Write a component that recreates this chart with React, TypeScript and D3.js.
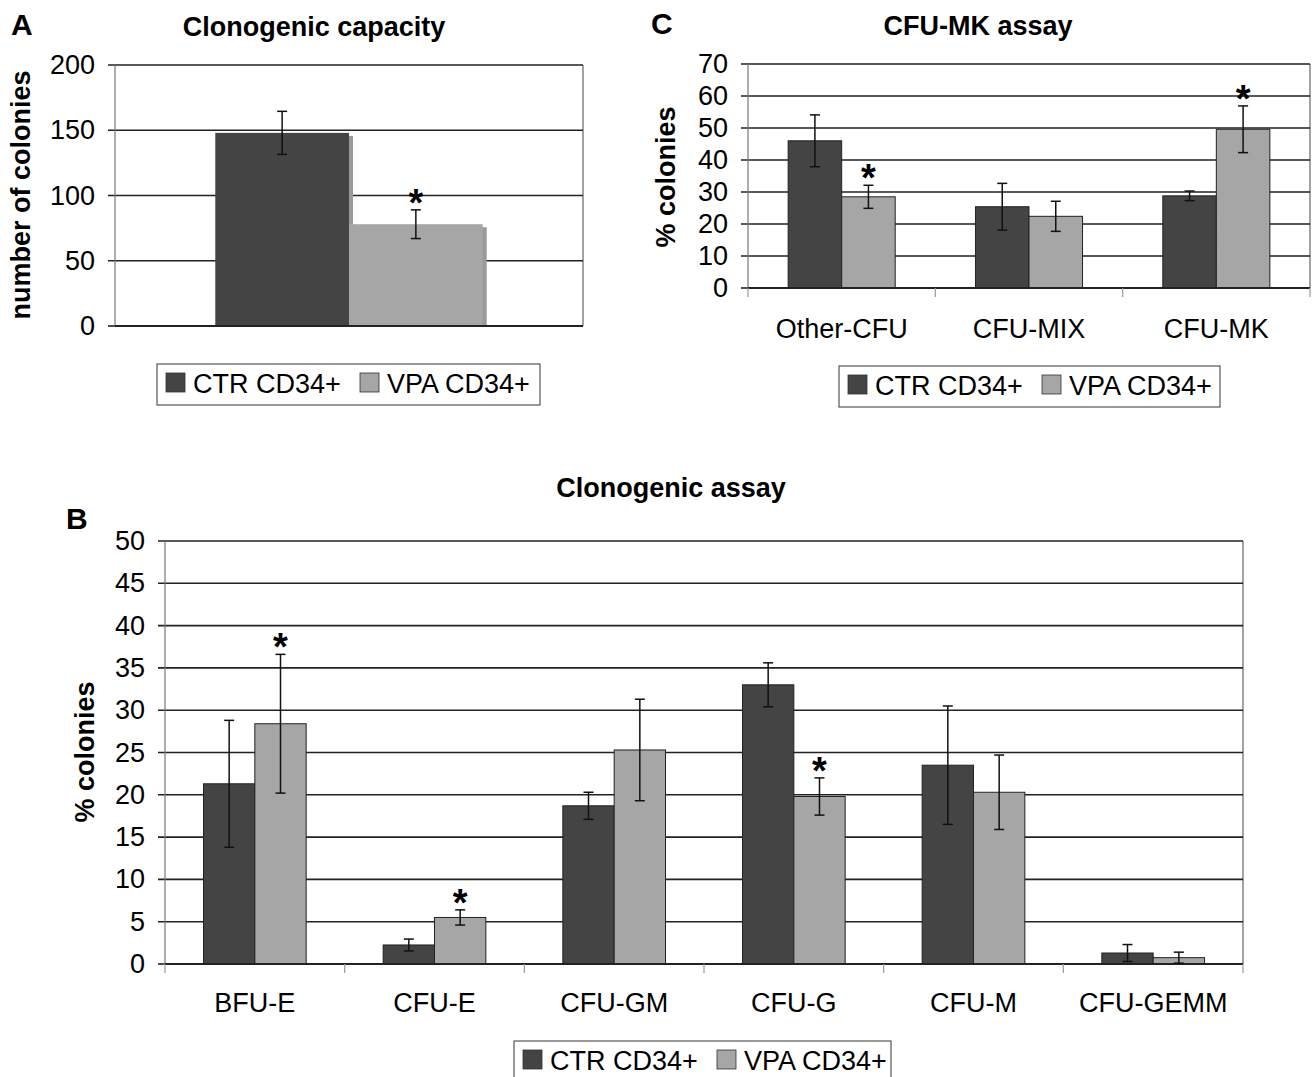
import React from "react";
import * as d3 from "d3";

const seriesNames = ["CTR CD34+", "VPA CD34+"];
const seriesColors = ["#444444", "#a6a6a6"];

// Panel A – Clonogenic capacity
const catsA = [""];
const ctrA = [148];
const ctrErrA = [16.5];
const vpaA = [78];
const vpaErrA = [11];
const sigA = [true];
const ticksA = [0, 50, 100, 150, 200];

// Panel B – Clonogenic assay
const catsB = ["BFU-E", "CFU-E", "CFU-GM", "CFU-G", "CFU-M", "CFU-GEMM"];
const ctrB = [21.3, 2.25, 18.7, 33.0, 23.5, 1.3];
const ctrErrB = [7.5, 0.7, 1.6, 2.6, 7.0, 1.0];
const vpaB = [28.4, 5.5, 25.3, 19.8, 20.3, 0.75];
const vpaErrB = [8.2, 0.9, 6.0, 2.2, 4.4, 0.65];
const sigB = [true, true, false, true, false, false];
const ticksB = [0, 5, 10, 15, 20, 25, 30, 35, 40, 45, 50];

// Panel C – CFU-MK assay
const catsC = ["Other-CFU", "CFU-MIX", "CFU-MK"];
const ctrC = [46, 25.4, 28.8];
const ctrErrC = [8.1, 7.3, 1.5];
const vpaC = [28.5, 22.4, 49.6];
const vpaErrC = [3.6, 4.7, 7.3];
const sigC = [true, false, true];
const ticksC = [0, 10, 20, 30, 40, 50, 60, 70];

const FONT = "'Liberation Sans', Arial, Helvetica, sans-serif";
const FS = 27;

type PanelProps = {
  left: number; right: number; top: number; bottom: number;
  ticks: number[]; cats: string[];
  ctr: number[]; ctrErr: number[]; vpa: number[]; vpaErr: number[]; sig: boolean[];
  catTicks: boolean; shadow: boolean;
  title: string; titleX: number; titleY: number;
  letter: string; letterX: number; letterY: number;
  yLabel: string; yLabelX: number; yLabelY: number;
  catLabelY: number;
  legX: number; legY: number; legW: number; legH: number;
};

function Panel(p: PanelProps) {
  const yMax = p.ticks[p.ticks.length - 1];
  const y = d3.scaleLinear().domain([0, yMax]).range([p.bottom, p.top]);
  const keys = p.cats.map((c, i) => c + "#" + i);
  const x0 = d3.scaleBand<string>().domain(keys).range([p.left, p.right]).padding(0);
  const bw = x0.bandwidth();
  const w = bw / 3.5;
  const x1 = d3.scaleBand<string>().domain(seriesNames).range([0.75 * w, 2.75 * w]).padding(0);
  const series = [
    { name: seriesNames[0], vals: p.ctr, errs: p.ctrErr, color: seriesColors[0] },
    { name: seriesNames[1], vals: p.vpa, errs: p.vpaErr, color: seriesColors[1] },
  ];
  const cap = 5;
  return (
    <g>
      <text x={p.letterX} y={p.letterY} fontFamily={FONT} fontWeight="bold" fontSize={30}>{p.letter}</text>
      <text x={p.titleX} y={p.titleY} textAnchor="middle" fontFamily={FONT} fontWeight="bold" fontSize={FS}>{p.title}</text>
      <text transform={`translate(${p.yLabelX},${p.yLabelY}) rotate(-90)`} textAnchor="middle" dominantBaseline="central"
        fontFamily={FONT} fontWeight="bold" fontSize={FS}>{p.yLabel}</text>
      <line x1={p.right} x2={p.right} y1={p.top} y2={p.bottom} stroke="#666" strokeWidth={1.2} />
      {p.ticks.map((t) => (
        <g key={t}>
          <line x1={p.left - 7} x2={t === 0 ? p.left : p.right} y1={y(t)} y2={y(t)} stroke="#222" strokeWidth={1.6} />
          <text x={p.left - 20} y={y(t)} textAnchor="end" dominantBaseline="central" fontFamily={FONT} fontSize={FS}>{t}</text>
        </g>
      ))}
      <line x1={p.left} x2={p.left} y1={p.top} y2={p.bottom} stroke="#777" strokeWidth={1.2} />
      {p.shadow && keys.map((k, i) => series.map((s) => (
        <rect key={"sh" + k + s.name} x={(x0(k) as number) + (x1(s.name) as number) + 4} y={y(s.vals[i]) + 3}
          width={x1.bandwidth()} height={p.bottom - y(s.vals[i]) - 3} fill="#9a9a9a" />
      )))}
      {keys.map((k, i) => series.map((s) => (
        <rect key={"b" + k + s.name} x={(x0(k) as number) + (x1(s.name) as number)} y={y(s.vals[i])}
          width={x1.bandwidth()} height={p.bottom - y(s.vals[i])} fill={s.color}
          stroke={p.shadow ? "none" : "#222"} strokeWidth={1} />
      )))}
      <line x1={p.left} x2={p.right} y1={p.bottom} y2={p.bottom} stroke="#222" strokeWidth={1.8} />
      {p.catTicks && [...keys.map((k) => x0(k) as number), p.right].map((xx, i) => (
        <line key={"ct" + i} x1={xx} x2={xx} y1={p.bottom} y2={p.bottom + 9} stroke="#999" strokeWidth={1.2} />
      ))}
      {keys.map((k, i) => series.map((s) => {
        const cx = (x0(k) as number) + (x1(s.name) as number) + x1.bandwidth() / 2;
        const hi = y(s.vals[i] + s.errs[i]);
        const lo = y(Math.max(0, s.vals[i] - s.errs[i]));
        return (
          <g key={"e" + k + s.name} stroke="#111" strokeWidth={1.5}>
            <line x1={cx} x2={cx} y1={hi} y2={lo} />
            <line x1={cx - cap} x2={cx + cap} y1={hi} y2={hi} />
            <line x1={cx - cap} x2={cx + cap} y1={lo} y2={lo} />
          </g>
        );
      }))}
      {keys.map((k, i) => p.sig[i] ? (
        <text key={"s" + k} x={(x0(k) as number) + (x1(seriesNames[1]) as number) + x1.bandwidth() / 2}
          y={y(p.vpa[i] + p.vpaErr[i]) + 6} textAnchor="middle" fontFamily={FONT} fontWeight="bold" fontSize={38}>*</text>
      ) : null)}
      {keys.map((k, i) => (
        <text key={"cl" + k} x={(x0(k) as number) + bw / 2} y={p.catLabelY} textAnchor="middle" fontFamily={FONT} fontSize={FS}>{p.cats[i]}</text>
      ))}
      <rect x={p.legX} y={p.legY} width={p.legW} height={p.legH} fill="#fff" stroke="#555" strokeWidth={1.2} />
      {series.map((s, j) => {
        const off = j === 0 ? 9 : 203;
        return (
          <g key={"lg" + j}>
            <rect x={p.legX + off} y={p.legY + 9} width={19} height={19} fill={s.color} stroke="#333" strokeWidth={0.8} />
            <text x={p.legX + off + 27} y={p.legY + 29} fontFamily={FONT} fontSize={FS}>{s.name}</text>
          </g>
        );
      })}
    </g>
  );
}

export default function App() {
  return (
    <svg width={1315} height={1077} style={{ position: "absolute", left: 0, top: 0, background: "#fff" }}>
      <rect x={0} y={0} width={1315} height={1077} fill="#fff" />
      <Panel left={115} right={583} top={65} bottom={326} ticks={ticksA} cats={catsA}
        ctr={ctrA} ctrErr={ctrErrA} vpa={vpaA} vpaErr={vpaErrA} sig={sigA}
        catTicks={false} shadow={true}
        title="Clonogenic capacity" titleX={314} titleY={36}
        letter="A" letterX={11} letterY={35}
        yLabel="number of colonies" yLabelX={21} yLabelY={195}
        catLabelY={0} legX={157} legY={364} legW={383} legH={41} />
      <Panel left={748} right={1310} top={64} bottom={288} ticks={ticksC} cats={catsC}
        ctr={ctrC} ctrErr={ctrErrC} vpa={vpaC} vpaErr={vpaErrC} sig={sigC}
        catTicks={true} shadow={false}
        title="CFU-MK assay" titleX={978} titleY={35}
        letter="C" letterX={651} letterY={34}
        yLabel="% colonies" yLabelX={666} yLabelY={177}
        catLabelY={338} legX={839} legY={366} legW={381} legH={41} />
      <Panel left={165} right={1243} top={541} bottom={964} ticks={ticksB} cats={catsB}
        ctr={ctrB} ctrErr={ctrErrB} vpa={vpaB} vpaErr={vpaErrB} sig={sigB}
        catTicks={true} shadow={false}
        title="Clonogenic assay" titleX={671} titleY={497}
        letter="B" letterX={66} letterY={529}
        yLabel="% colonies" yLabelX={85} yLabelY={752}
        catLabelY={1012} legX={514} legY={1041} legW={377} legH={42} />
    </svg>
  );
}
